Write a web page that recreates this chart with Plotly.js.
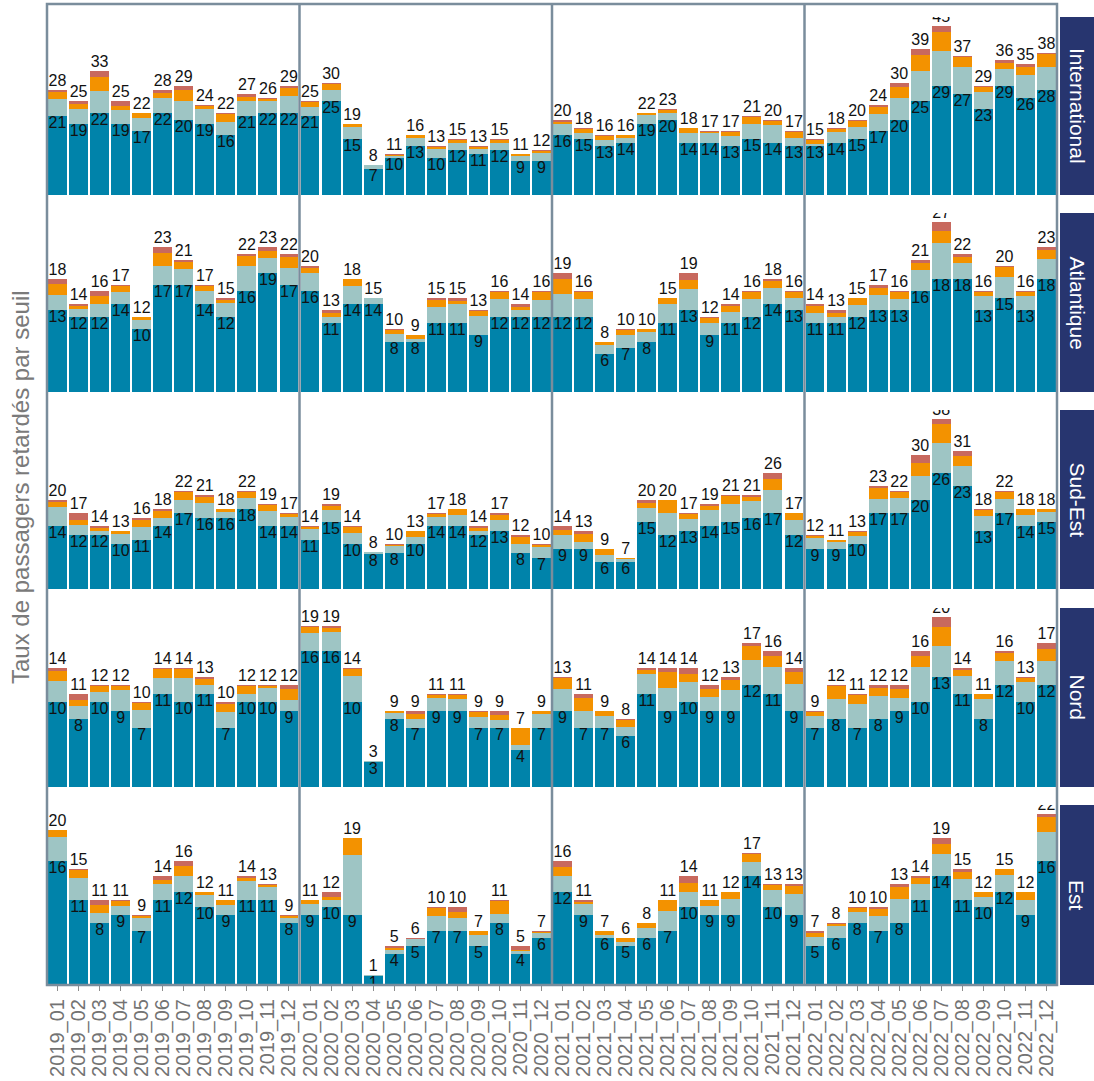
<!DOCTYPE html>
<html>
<head>
<meta charset="utf-8">
<script src="https://cdn.plot.ly/plotly-3.0.1.min.js"></script>
<style>html,body{margin:0;padding:0;background:#fff;}#chart{width:1094px;height:1081px;}</style>
</head>
<body>
<div id="chart"></div>
<script>
// ---------- DATA ----------
const months = [
  "2019_01","2019_02","2019_03","2019_04","2019_05","2019_06","2019_07","2019_08","2019_09","2019_10","2019_11","2019_12",
  "2020_01","2020_02","2020_03","2020_04","2020_05","2020_06","2020_07","2020_08","2020_09","2020_10","2020_11","2020_12",
  "2021_01","2021_02","2021_03","2021_04","2021_05","2021_06","2021_07","2021_08","2021_09","2021_10","2021_11","2021_12",
  "2022_01","2022_02","2022_03","2022_04","2022_05","2022_06","2022_07","2022_08","2022_09","2022_10","2022_11","2022_12"];

const regions = ["International","Atlantique","Sud-Est","Nord","Est"];
const seuils = ["seuil 1","seuil 2","seuil 3","seuil 4"];

// International
const intlS1 = [21,19,22,19,17,22,20,19,16,21,22,22, 21,25,15,7,10,13,10,12,11,12,9,9, 16,15,13,14,19,20,14,14,13,15,14,13, 13,14,15,17,20,25,29,27,23,29,26,28];
const intlS2 = [4.65,4.0,5.7,3.6,3.6,4.0,5.2,4.05,3.6,4.0,3.0,4.35, 2.5,2.95,3.1,0.95,0.45,2.3,2.2,1.9,1.2,1.9,1.45,2.2, 3.05,1.45,1.65,1.2,2.45,1.9,2.65,2.45,2.65,3.9,4.7,2.1, 0.7,2.7,3.15,4.65,5.8,8.15,9.35,7.15,4.45,4.6,6.1,6.25];
const intlS3 = [1.9,1.2,3.7,1.2,1.3,1.3,2.7,0.6,1.95,1.2,0.7,2.2, 1.2,1.6,0.8,0.05,0.35,0.6,0.5,0.8,0.7,0.8,0.45,0.5, 0.5,1.05,1.15,0.7,0.35,0.9,1.15,0.35,1.15,1.85,1.05,1.7, 1.05,0.8,1.6,1.85,2.9,4.25,5.05,2.65,1.3,1.7,2.1,3.3];
const intlS4 = [0.45,0.8,1.6,1.2,0.1,0.7,1.1,0.35,0.45,0.8,0.3,0.45, 0.3,0.45,0.1,0,0.2,0.1,0.3,0.3,0.1,0.3,0.1,0.3, 0.45,0.5,0.2,0.1,0.2,0.2,0.2,0.2,0.2,0.25,0.25,0.2, 0.25,0.5,0.25,0.5,1.3,1.6,1.6,0.2,0.25,0.7,0.8,0.45];

// Atlantique
const atlS1 = [13,12,12,14,10,17,17,14,12,16,19,17, 16,11,14,14,8,8,11,11,9,12,12,12, 12,12,6,7,8,11,13,9,11,12,14,13, 11,11,12,13,13,16,18,18,13,15,13,18];
const atlS2 = [2.45,1.2,1.95,1.9,1.5,3.0,2.6,2.05,2.2,4.1,2.4,2.75, 2.9,0.9,2.85,0.9,1.2,0.4,2.6,2.95,3.05,2.75,1.05,2.65, 3.55,2.75,1.55,2.05,1.55,3.05,3.35,2.05,1.75,2.75,2.6,1.9, 1.6,0.95,1.85,2.45,1.75,3.45,5.7,2.6,2.2,3.25,2.2,3.15];
const atlS3 = [1.75,0.55,1.4,0.95,0.45,2.05,1.1,0.8,0.5,1.6,1.1,1.75, 0.8,0.6,1.1,0.1,0.7,0.6,1.1,0.6,0.8,1.1,0.5,1.3, 2.5,1.15,0.35,0.85,0.4,0.9,1.4,0.8,0.95,1.15,1.1,0.95, 1.1,0.6,1.1,1.1,1.15,1.1,1.9,0.95,0.65,1.6,0.65,1.4];
const atlS4 = [0.8,0.25,0.65,0.15,0.05,0.95,0.3,0.15,0.3,0.3,0.5,0.5, 0.3,0.5,0.05,0,0.1,0,0.3,0.45,0.15,0.15,0.45,0.05, 0.95,0.1,0.1,0.1,0.05,0.05,1.25,0.15,0.3,0.1,0.3,0.15, 0.3,0.45,0.05,0.45,0.1,0.45,1.4,0.45,0.15,0.15,0.15,0.45];

// Sud-Est
const seS1 = [14,12,12,10,11,14,17,16,16,18,14,14, 11,15,10,7.8,8,10,14,14,12,13,8,7, 9,9,6,6,15,12,13,14,15,16,17,12, 9,9,10,17,17,20,26,23,13,17,14,15];
const seS2 = [4.4,2.25,1.05,2.3,2.95,1.95,2.95,3.2,1.25,2.4,3.4,2.05, 2.55,2.65,2.45,0.45,1.55,1.65,2.1,2.65,1.05,2.4,2.15,2.3, 3.15,1.5,1.65,0.75,3.15,4.95,2.6,3.65,3.95,3.6,5.15,3.45, 2.35,1.55,1.85,3.05,3.3,5.25,6.75,4.6,3.4,3.15,2.65,2.25];
const seS3 = [1.15,1.15,0.7,0.6,1.6,1.6,1.8,1.35,0.7,1.35,1.35,0.7, 0.4,0.9,1.5,0,0.4,1.3,0.75,1.2,0.7,1.15,1.6,0.45, 1.15,1.8,1.3,0.25,1.15,2.95,1.15,0.9,1.9,1.0,2.5,1.5, 0.6,0.45,0.9,2.5,1.45,2.95,4.1,2.25,1.35,1.6,1.2,0.7];
const seS4 = [0.45,1.6,0.25,0.1,0.45,0.45,0.25,0.45,0.05,0.25,0.25,0.25, 0.05,0.45,0.05,0,0.05,0.05,0.15,0.15,0.25,0.45,0.25,0.25, 0.7,0.7,0.05,0,0.7,0.1,0.25,0.45,0.15,0.4,1.35,0.05, 0.05,0,0.25,0.45,0.25,1.8,1.15,1.15,0.25,0.25,0.15,0.05];

// Nord
const nordS1 = [10,8,10,9,7,11,10,11,7,10,10,9, 16,16,10,3,8,7,9,9,7,7,4.4,7, 9,7,7,6,11,9,10,9,9,12,11,9, 7,8,7,8,9,10,13,11,8,12,10,12];
const nordS2 = [2.45,1.6,1.15,2.4,2.05,1.9,2.8,1.05,1.8,0.95,1.7,1.3, 2.2,2.25,3.05,0.12,0.7,1.05,1.5,1.4,1.3,0.9,0.55,1.65, 2.55,1.95,1.4,1.1,2.3,2.7,2.35,1.65,2.45,2.95,3.2,3.2, 1.4,2.35,2.8,2.7,1.55,4.2,3.6,2.05,2.4,2.9,2.4,2.85];
const nordS3 = [1.25,0.7,0.75,0.5,0.85,1.0,1.1,0.7,0.95,0.95,0.25,1.2, 0.7,0.5,0.9,0,0.25,0.6,0.4,0.5,0.5,0.6,2.0,0.3, 1.25,1.55,0.55,0.85,0.55,1.8,0.95,0.85,1.2,1.7,1.3,1.3, 0.5,1.55,1.0,0.95,0.95,1.3,2.3,0.7,0.55,0.85,0.5,1.45];
const nordS4 = [0.3,0.7,0.1,0.1,0.1,0.1,0.1,0.25,0.25,0.1,0.05,0.5, 0.1,0.25,0.05,0,0.05,0.35,0.1,0.1,0.2,0.5,0,0.05, 0.2,0.5,0.05,0.05,0.15,0.5,0.7,0.5,0.35,0.35,0.5,0.5, 0.1,0.1,0.2,0.35,0.5,0.5,1.1,0.25,0.05,0.25,0.1,0.7];

// Est
const estS1 = [16,11,8,9,7,11,12,10,9,11,11,8, 9,10,9,1.2,4,5,7,7,5,8,4,6, 12,9,6,5,6,7,10,9,9,14,10,9, 5,6,8,7,8,11,14,11,10,12,9,16];
const estS2 = [3.05,2.8,1.3,1.2,1.6,2.05,2.0,1.6,1.3,2.45,1.6,0.7, 1.45,0.95,7.75,0.15,0.5,0.9,1.95,1.7,1.5,1.15,0.4,0.7, 2.0,1.5,0.4,0.6,1.4,2.55,2.0,1.2,2.05,1.9,2.2,2.7, 1.2,1.6,1.45,1.95,3.15,2.05,2.85,2.65,1.35,2.2,1.95,3.75];
const estS3 = [0.9,1.0,1.05,0.65,0.25,0.55,1.35,0.35,0.65,0.4,0.35,0.15, 0.5,0.4,2.15,0,0.25,0.05,0.95,0.65,0.5,1.7,0.1,0.15, 1.2,0.25,0.55,0.4,0.55,1.4,1.2,0.75,0.9,1.0,0.75,1.05, 0.55,0.25,0.5,0.8,1.45,0.7,1.35,0.95,0.6,0.7,1.0,1.85];
const estS4 = [0.05,0.2,0.65,0.15,0.15,0.4,0.65,0.05,0.05,0.15,0.05,0.15, 0.05,0.65,0.1,0,0.25,0.05,0.1,0.65,0,0.15,0.5,0.15, 0.8,0.25,0.05,0,0.05,0.05,0.8,0.05,0.05,0.1,0.05,0.25, 0.25,0.15,0.05,0.25,0.4,0.25,0.8,0.4,0.05,0.1,0.05,0.4];

// ---------- STYLE ----------
const colors = ["#0083AA","#9EC5C4","#F39200","#C8695E"];
const stripColor = "#27356F";
const borderColor = "#7A8D9C";
const labelFont = {family:"Liberation Sans, Arial, sans-serif", size:16, color:"#111111"};

const regionSeries = [
  [intlS1,intlS2,intlS3,intlS4],
  [atlS1,atlS2,atlS3,atlS4],
  [seS1,seS2,seS3,seS4],
  [nordS1,nordS2,nordS3,nordS4],
  [estS1,estS2,estS3,estS4]
];

// panel pixel extents (top, bottom) in page coordinates
const W = 1094, H = 1081;
const mL = 47, mR = 37, mT = 4, mB = 96;
const plotH = H - mT - mB;
const panelPx = [[17,195],[213,392],[410,589],[608,787],[805,985]];
const toPaperY = px => (H - mB - px) / plotH;

const traces = [];
const layout = {
  width: W, height: H,
  margin: {l:mL, r:mR, t:mT, b:mB},
  paper_bgcolor: "#ffffff", plot_bgcolor: "#ffffff",
  barmode: "stack", bargap: 0.1,
  showlegend: false,
  font: {family:"Liberation Sans, Arial, sans-serif"},
  xaxis: {
    type:"category", categoryorder:"array", categoryarray: months,
    tickmode:"array", tickvals: months, ticktext: months,
    range:[-0.5, 47.5], anchor:"y5",
    tickangle:-90, ticks:"outside", ticklen:5, tickwidth:1, tickcolor:"#8c8c8c",
    tickfont:{family:"Liberation Sans, Arial, sans-serif", size:20, color:"#737373"},
    showgrid:false, zeroline:false, showline:false, fixedrange:true
  },
  shapes: [], annotations: []
};

regionSeries.forEach((series, r) => {
  const yId = r === 0 ? "y" : "y" + (r + 1);
  const axKey = r === 0 ? "yaxis" : "yaxis" + (r + 1);
  const totals = months.map((m, i) => series.reduce((s, arr) => s + arr[i], 0));
  const maxT = Math.max(...totals);
  layout[axKey] = {
    domain: [toPaperY(panelPx[r][1]), toPaperY(panelPx[r][0])],
    range: [0, maxT * 1.055], anchor: "x",
    showticklabels:false, showgrid:false, zeroline:false, showline:false, ticks:"", fixedrange:true
  };
  series.forEach((arr, k) => {
    traces.push({
      type:"bar", x: months, y: arr, xaxis:"x", yaxis: yId,
      name: seuils[k], marker:{color: colors[k], line:{width:0}},
      hoverinfo:"x+y"
    });
  });
  traces.push({
    type:"scatter", mode:"text", x: months, y: series[0], xaxis:"x", yaxis:yId,
    text: series[0].map(v => String(Math.round(v))), textposition:"bottom center",
    textfont: labelFont, hoverinfo:"skip", cliponaxis:true
  });
  traces.push({
    type:"scatter", mode:"text", x: months, y: totals, xaxis:"x", yaxis:yId,
    text: totals.map(v => String(Math.round(v))), textposition:"top center",
    textfont: labelFont, hoverinfo:"skip", cliponaxis:true
  });
  // strip
  const sx0 = (1060 - mL) / (W - mL - mR), sx1 = (W - mL) / (W - mL - mR);
  layout.shapes.push({type:"rect", xref:"paper", yref:"paper", x0:sx0, x1:sx1,
    y0: toPaperY(panelPx[r][1]), y1: toPaperY(panelPx[r][0]), fillcolor: stripColor, line:{width:0}, layer:"above"});
  layout.annotations.push({xref:"paper", yref:"paper", x:(sx0+sx1)/2,
    y:(toPaperY(panelPx[r][0]) + toPaperY(panelPx[r][1]))/2, text: regions[r], showarrow:false,
    textangle:90, xanchor:"center", yanchor:"middle",
    font:{family:"Liberation Sans, Arial, sans-serif", size:21, color:"#ffffff"}});
});

// year separators
[11.5, 23.5, 35.5].forEach(xv => {
  layout.shapes.push({type:"line", xref:"x", yref:"paper", x0:xv, x1:xv, y0:0, y1:1,
    line:{color:borderColor, width:2.5}, layer:"above"});
});
// outer border
layout.shapes.push({type:"rect", xref:"paper", yref:"paper", x0:0, x1:1, y0:0, y1:1,
  line:{color:borderColor, width:2.5}, fillcolor:"rgba(0,0,0,0)", layer:"above"});

// y title
layout.annotations.push({xref:"paper", yref:"paper", x:(20 - mL)/(W - mL - mR), y: toPaperY(487),
  text:"Taux de passagers retardés par seuil", showarrow:false, textangle:-90,
  xanchor:"center", yanchor:"middle",
  font:{family:"Liberation Sans, Arial, sans-serif", size:24, color:"#7a7a7a"}});

Plotly.newPlot("chart", traces, layout, {displayModeBar:false, staticPlot:true});
</script>
</body>
</html>
